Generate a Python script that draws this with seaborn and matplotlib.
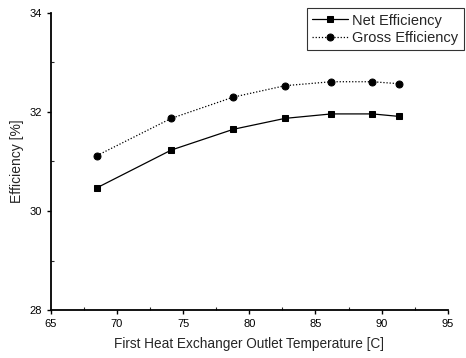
import matplotlib
matplotlib.use("Agg")
import matplotlib.pyplot as plt
from matplotlib.ticker import MultipleLocator
import seaborn as sns
import pandas as pd

temperature = [68.5, 74.1, 78.8, 82.7, 86.2, 89.3, 91.3]
net_efficiency = [30.47, 31.23, 31.65, 31.87, 31.96, 31.96, 31.91]
gross_efficiency = [31.12, 31.87, 32.30, 32.53, 32.61, 32.61, 32.57]
series_names = ["Net Efficiency", "Gross Efficiency"]

df = pd.DataFrame({
    "T": temperature * 2,
    "E": net_efficiency + gross_efficiency,
    "series": [series_names[0]] * len(temperature) + [series_names[1]] * len(temperature),
})

sns.set_style("ticks")
plt.rcParams["font.family"] = ["Liberation Sans", "DejaVu Sans"]

fig = plt.figure(figsize=(4.66, 3.58), dpi=100)
ax = fig.add_axes([0.109, 0.134, 0.852, 0.830])

sns.lineplot(data=df, x="T", y="E", hue="series", style="series",
             palette=["black", "black"], markers=["s", "o"],
             dashes=[(None, None), (1, 1.5)], markersize=5, linewidth=0.9,
             markeredgecolor="black", ax=ax, legend=True)

ax.set_xlim(65, 95)
ax.set_ylim(28, 34)
ax.xaxis.set_major_locator(MultipleLocator(5))
ax.xaxis.set_minor_locator(MultipleLocator(2.5))
ax.yaxis.set_major_locator(MultipleLocator(2))
ax.yaxis.set_minor_locator(MultipleLocator(1))
ax.tick_params(which="major", direction="out", length=3, width=1, labelsize=8, colors="black")
ax.tick_params(which="minor", direction="in", length=2, width=0.8)
for s in ["top", "right"]:
    ax.spines[s].set_visible(False)
for s in ["left", "bottom"]:
    ax.spines[s].set_linewidth(1.3)
    ax.spines[s].set_color("black")

ax.set_xlabel("First Heat Exchanger Outlet Temperature [C]", fontsize=9.8, labelpad=6)
ax.set_ylabel("Efficiency [%]", fontsize=10, labelpad=4)

leg = ax.legend(loc="upper right", bbox_to_anchor=(1.04, 1.015), frameon=True,
                fancybox=False, edgecolor="black", fontsize=10.5,
                handlelength=2.5, borderpad=0.35, labelspacing=0.25,
                handletextpad=0.3, borderaxespad=0)
leg.get_frame().set_linewidth(0.8)

fig.savefig("out.png", dpi=100)
